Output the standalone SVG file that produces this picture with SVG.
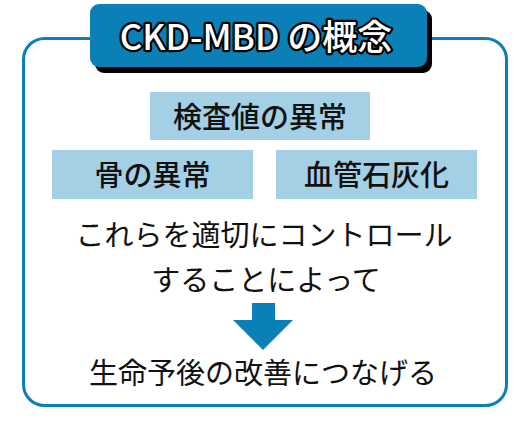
<svg xmlns="http://www.w3.org/2000/svg" width="531" height="430" viewBox="0 0 531 430">
<style>
.jp{font-family:"Noto Sans CJK JP","Noto Sans",sans-serif;text-anchor:middle;fill:#111}
.box{fill:#a3d0e5}
.lbl{font-size:29px;font-weight:500}
.body{font-size:29px;font-weight:400}
</style>
<rect width="531" height="430" fill="#fff"/>
<g id="frame">
<rect x="23.5" y="38.5" width="483" height="367" rx="21" fill="none" stroke="#0a80b6" stroke-width="3"/>
</g>
<g id="title">
<rect x="95" y="10" width="337" height="63" rx="9" fill="#000"/>
<rect x="90" y="4" width="337" height="63" rx="9" fill="#0a80b6"/>
<text x="256" y="50" class="jp" style="font-size:35px;font-weight:500;fill:#fff;stroke:#000;stroke-width:4.5;paint-order:stroke;stroke-linejoin:round">CKD-MBD の概念</text>
</g>
<g id="node-kensa">
<rect class="box" x="150" y="92" width="220" height="48"/>
<text x="260" y="128" class="jp lbl">検査値の異常</text>
</g>
<g id="node-hone">
<rect class="box" x="52" y="150" width="201" height="49"/>
<text x="152.5" y="186" class="jp lbl">骨の異常</text>
</g>
<g id="node-kekkan">
<rect class="box" x="276" y="150" width="201" height="49"/>
<text x="376.5" y="186" class="jp lbl">血管石灰化</text>
</g>
<g id="node-control">
<text x="264" y="246" class="jp body">これらを適切にコントロール</text>
<text x="266" y="291" class="jp body">することによって</text>
</g>
<g id="connectors">
<polygon points="252,303 275,303 275,320 293,320 263,350 233,320 252,320" fill="#0a80b6"/>
</g>
<g id="node-result">
<text x="263" y="384" class="jp body">生命予後の改善につなげる</text>
</g>
</svg>
